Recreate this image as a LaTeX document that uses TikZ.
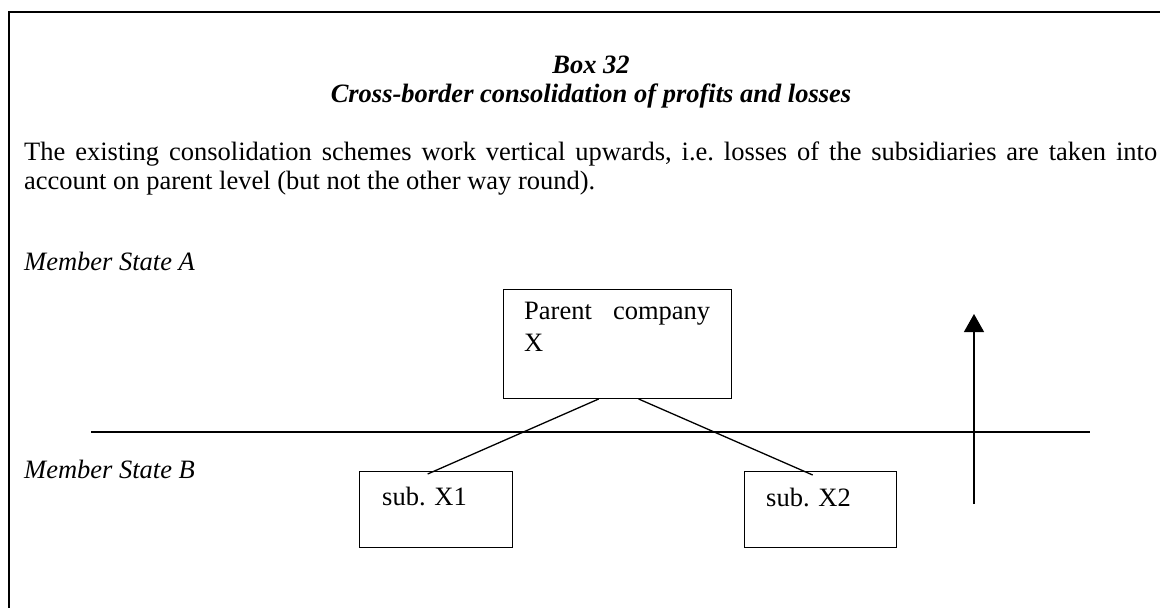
\documentclass[tikz,border=0pt]{standalone}
\usepackage{fontspec}
\setmainfont{Liberation Serif}
\usetikzlibrary{arrows.meta}
\begin{document}
\begin{tikzpicture}[x=1pt,y=-1pt,
  font=\fontsize{26.5}{31}\selectfont,
  txt/.style={anchor=base west, inner sep=0pt},
  ttl/.style={anchor=base, inner sep=0pt, font=\fontsize{26.5}{31}\selectfont\bfseries\itshape},
  box/.style={draw, line width=1.3pt, inner sep=0pt},
  conn/.style={line width=1.3pt}]
\useasboundingbox (0,0) rectangle (1160,608);
\clip (0,0) rectangle (1160,608);
% frame
\coordinate (fb) at (9,620);
\coordinate (ftl) at (9,12);
\coordinate (fr) at (1170,12);
\draw[line width=2pt] (fb) -- (ftl) -- (fr);
% title
\node[ttl] (boxno) at (591,73) {Box 32};
\node[ttl] (title) at (591,102) {Cross-border consolidation of profits and losses};
% body
\node[txt] (body1) at (24,160) {\frenchspacing\makebox[1133pt][s]{The existing consolidation schemes work vertical upwards, i.e. losses of the subsidiaries are taken into}};
\node[txt] (body2) at (24,189) {account on parent level (but not the other way round).};
% member states
\node[txt, font=\fontsize{26.5}{31}\selectfont\itshape] (msa) at (24,270) {Member State A};
\node[txt, font=\fontsize{26.5}{31}\selectfont\itshape] (msb) at (24,478) {Member State B};
% boxes
\node[box, minimum width=228pt, minimum height=109pt, anchor=south west] (parent) at (503,399) {};
\node[txt] (ptext) at ([xshift=21pt,yshift=-31pt]parent.north west) {\makebox[186pt][s]{Parent company}};
\node[txt] (ptext2) at ([xshift=21pt,yshift=-63pt]parent.north west) {X};
\node[box, minimum width=153pt, minimum height=76pt, anchor=north west] (sub1) at (359,471) {};
\node[txt] (s1t) at ([xshift=23pt,yshift=-34pt]sub1.north west) {sub. X1};
\node[box, minimum width=152pt, minimum height=76pt, anchor=north west] (sub2) at (744,471) {};
\node[txt] (s2t) at ([xshift=22pt,yshift=-35pt]sub2.north west) {sub. X2};
% connectors
\draw[conn] ([xshift=-19pt]parent.south) -- ([xshift=-8.5pt,yshift=-3pt]sub1.north);
\draw[conn] ([xshift=21pt]parent.south) -- ([xshift=-8pt,yshift=-4pt]sub2.north);
% border line
\coordinate (bl) at (91,432);
\coordinate (br) at (1090,432);
\draw[line width=1.5pt] (bl) -- (br);
% arrow
\coordinate (as) at (974,504);
\coordinate (ae) at (974,314);
\draw[conn, -{Triangle[width=20pt,length=18pt]}] (as) -- (ae);
\end{tikzpicture}
\end{document}
